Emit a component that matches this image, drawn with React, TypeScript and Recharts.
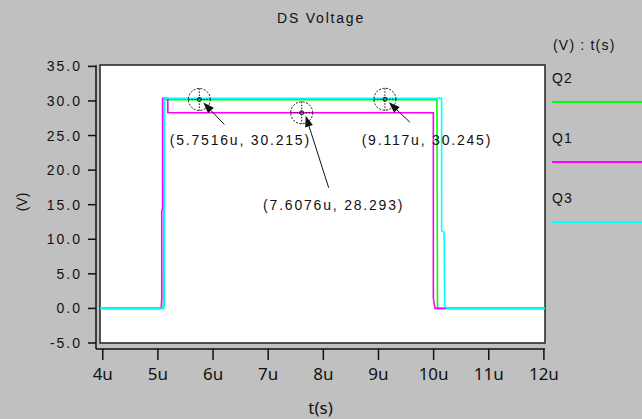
import React from 'react';
import { LineChart, Line, XAxis, YAxis, ReferenceArea, ReferenceDot } from 'recharts';

// time axis in micro-seconds, voltage in V
const q1Time = [3.95, 5.06, 5.07, 5.07, 5.085, 5.085, 5.18, 5.18, 9.995, 9.995, 10.025, 12.02];
const q1Volt = [0, 0, 1.5, 14, 14.5, 30.4, 30.4, 28.3, 28.3, 1.5, 0, 0];

const q2Time = [3.95, 5.1, 5.115, 10.06, 10.07, 12.02];
const q2Volt = [0, 0, 30.2, 30.2, 0, 0];

const q3Time = [3.95, 5.07, 5.115, 5.12, 10.145, 10.145, 10.19, 10.2, 10.24, 12.02];
const q3Volt = [0, 0, 0.3, 30.4, 30.4, 11.3, 11.0, 0.5, 0, 0];

const xTicks = [4, 5, 6, 7, 8, 9, 10, 11, 12];
const yTicks = [-5, 0, 5, 10, 15, 20, 25, 30, 35];

const probeTime = [5.7516, 7.6076, 9.117];
const probeVolt = [30.215, 28.293, 30.245];
const probeText = ['(5.7516u, 30.215)', '(7.6076u, 28.293)', '(9.117u, 30.245)'];
// where each note and arrow tail sit, relative to its probe
const probeNote = [
  { lx: 41, ly: 46, ax: 25, ay: 25 },
  { lx: 32, ly: 97, ax: 27, ay: 75 },
  { lx: 42, ly: 46, ax: 25, ay: 23 },
];

const series = [
  { name: 'Q2', color: '#00ff00', time: q2Time, volt: q2Volt },
  { name: 'Q1', color: '#ff00ff', time: q1Time, volt: q1Volt },
  { name: 'Q3', color: '#00ffff', time: q3Time, volt: q3Volt },
];

const toRows = (t: number[], v: number[]) => t.map((x, i) => ({ t: x, v: v[i] }));

const FONT = '"Liberation Sans", Arial, sans-serif';

const Probe = (props: any) => {
  const { cx, cy, text, note } = props;
  if (cx == null || cy == null) return <g />;
  const tailX = cx + note.ax;
  const tailY = cy + note.ay;
  const tipX = cx + 4;
  const tipY = cy + 3;
  const len = Math.hypot(tipX - tailX, tipY - tailY);
  const dx = (tipX - tailX) / len;
  const dy = (tipY - tailY) / len;
  const bx = tipX - dx * 11;
  const by = tipY - dy * 11;
  const head = `${tipX},${tipY} ${bx - dy * 4},${by + dx * 4} ${bx + dy * 4},${by - dx * 4}`;
  return (
    <g>
      <circle cx={cx} cy={cy} r={11} fill="none" stroke="#111" strokeWidth={1} strokeDasharray="2 1.5" />
      <line x1={cx - 11} x2={cx + 11} y1={cy} y2={cy} stroke="#111" strokeDasharray="1.5 1.5" />
      <line x1={cx} x2={cx} y1={cy - 11} y2={cy + 11} stroke="#111" strokeDasharray="1.5 1.5" />
      <circle cx={cx} cy={cy} r={2} fill="none" stroke="#111" />
      <line x1={tailX} y1={tailY} x2={bx} y2={by} stroke="#111" strokeWidth={1} />
      <polygon points={head} fill="#111" />
      <text
        x={cx + note.lx}
        y={cy + note.ly}
        textAnchor="middle"
        fontSize={14}
        letterSpacing={1.8}
        fill="#111"
        fontFamily={FONT}
      >
        {text}
      </text>
    </g>
  );
};

const VLabel = () => (
  <text
    x={22}
    y={202}
    transform="rotate(-90 22 202)"
    textAnchor="middle"
    dominantBaseline="central"
    fontSize={14}
    fill="#111"
    fontFamily={FONT}
  >
    (V)
  </text>
);

export default function App() {
  return (
    <div
      style={{
        position: 'absolute',
        left: 0,
        top: 0,
        width: 642,
        height: 419,
        background: '#c0c0c0',
        fontFamily: FONT,
        color: '#111',
      }}
    >
      <div
        style={{
          position: 'absolute',
          left: 0,
          top: 10,
          width: 642,
          textAlign: 'center',
          fontSize: 14,
          letterSpacing: 1.8,
          lineHeight: '16px',
        }}
      >
        DS Voltage
      </div>

      <LineChart width={642} height={419} margin={{ top: 65, right: 97, left: 0, bottom: 10 }}>
        <XAxis
          dataKey="t"
          type="number"
          domain={[3.95, 12.02]}
          allowDataOverflow
          ticks={xTicks}
          tickFormatter={(v: number) => `${v}u`}
          padding={{ left: 4, right: 0 }}
          height={60}
          tickSize={11}
          tickMargin={8}
          stroke="#111"
          strokeWidth={1.5}
          tick={{ fontSize: 17, fill: '#111', fontFamily: '"Noto Sans", sans-serif' }}
          label={{
            value: 't(s)',
            position: 'insideBottom',
            offset: -5,
            fontSize: 17,
            fill: '#111',
            fontFamily: '"Noto Sans", sans-serif',
          }}
        />
        <YAxis
          type="number"
          domain={[-5, 35.2]}
          allowDataOverflow
          ticks={yTicks}
          tickFormatter={(v: number) => v.toFixed(1)}
          padding={{ top: 0, bottom: 6 }}
          width={96}
          tickSize={8}
          tickMargin={6}
          stroke="#111"
          strokeWidth={1.5}
          tick={{ fontSize: 14, fill: '#111', fontFamily: FONT, letterSpacing: 2 }}
          label={{ content: () => <VLabel /> }}
        />
        <ReferenceArea
          x1={3.95}
          x2={12.02}
          y1={-5}
          y2={35.2}
          fill="#ffffff"
          fillOpacity={1}
          stroke="#222"
          strokeWidth={1.5}
        />
        {series.map((s) => (
          <Line
            key={s.name}
            data={toRows(s.time, s.volt)}
            dataKey="v"
            name={s.name}
            type="linear"
            stroke={s.color}
            strokeWidth={1.6}
            dot={false}
            activeDot={false}
            isAnimationActive={false}
          />
        ))}
        {probeTime.map((t, i) => (
          <ReferenceDot
            key={t}
            x={t}
            y={probeVolt[i]}
            r={11}
            shape={(p: any) => <Probe {...p} text={probeText[i]} note={probeNote[i]} />}
          />
        ))}
      </LineChart>

      <div style={{ position: 'absolute', left: 553, top: 37, fontSize: 14, letterSpacing: 1.2, lineHeight: '16px' }}>
        (V) : t(s)
      </div>
      {series.map((s, i) => (
        <div key={s.name}>
          <div
            style={{
              position: 'absolute',
              left: 552,
              top: 70 + i * 60,
              fontSize: 14,
              letterSpacing: 1.2,
              lineHeight: '16px',
            }}
          >
            {s.name}
          </div>
          <div
            style={{
              position: 'absolute',
              left: 552,
              top: 101 + i * 60,
              width: 90,
              height: 1.5,
              background: s.color,
            }}
          />
        </div>
      ))}
    </div>
  );
}
